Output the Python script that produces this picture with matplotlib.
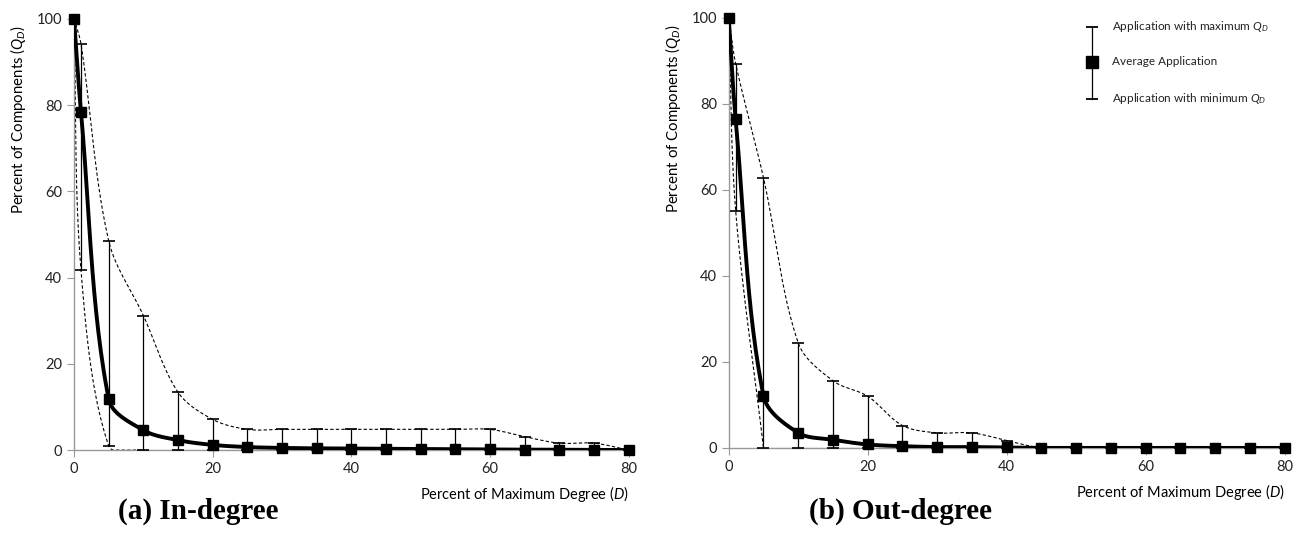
import numpy as np
import matplotlib
matplotlib.use('Agg')
import matplotlib.pyplot as plt

plt.rcParams['font.family'] = 'Lato'
plt.rcParams['mathtext.fontset'] = 'custom'
plt.rcParams['mathtext.rm'] = 'Lato'
plt.rcParams['mathtext.it'] = 'Lato:italic'

# x positions (percent of maximum degree)
deg = [0, 1, 5, 10, 15, 20, 25, 30, 35, 40, 45, 50, 55, 60, 65, 70, 75, 80]

# (a) in-degree
in_avg = [100, 78.4, 11.8, 4.6, 2.3, 1.2, 0.7, 0.5, 0.4, 0.35, 0.3, 0.25, 0.2, 0.15, 0.1, 0.08, 0.05, 0]
in_max = [100, 94.2, 48.5, 31.2, 13.4, 7.1, 4.8, 4.8, 4.8, 4.8, 4.8, 4.8, 4.8, 4.8, 3.1, 1.6, 1.6, 0]
in_min = [100, 41.8, 1.0, 0, 0, 0, 0, 0, 0, 0, 0, 0, 0, 0, 0, 0, 0, 0]

# (b) out-degree
out_avg = [100, 76.4, 12.1, 3.5, 1.9, 0.8, 0.4, 0.2, 0.2, 0.1, 0, 0, 0, 0, 0, 0, 0, 0]
out_max = [100, 89.3, 62.8, 24.4, 15.6, 12.0, 5.2, 3.5, 3.5, 1.7, 0, 0, 0, 0, 0, 0, 0, 0]
out_min = [100, 55.1, 0, 0, 0, 0, 0, 0, 0, 0, 0, 0, 0, 0, 0, 0, 0, 0]

xticks = [0, 20, 40, 60, 80]
yticks = [0, 20, 40, 60, 80, 100]


def smooth(x, y, sx=6.94, sy=4.31, n=30):
    # excel-like smoothed line, bezier with length-weighted tangents (screen space)
    p = np.column_stack([np.asarray(x, float) * sx, np.asarray(y, float) * sy])
    out = []
    for i in range(len(p) - 1):
        p0 = p[max(i - 1, 0)]
        p1 = p[i]
        p2 = p[i + 1]
        p3 = p[min(i + 2, len(p) - 1)]
        d01 = np.hypot(*(p1 - p0))
        d12 = np.hypot(*(p2 - p1))
        d23 = np.hypot(*(p3 - p2))
        c1 = p1 + (p2 - p0) * d12 / (3 * (d01 + d12)) if d01 > 0 else p1 + (p2 - p1) / 3
        c2 = p2 - (p3 - p1) * d12 / (3 * (d12 + d23)) if d23 > 0 else p2 - (p2 - p1) / 3
        t = np.linspace(0, 1, n)[:, None]
        seg = ((1 - t) ** 3) * p1 + 3 * ((1 - t) ** 2) * t * c1 + 3 * (1 - t) * t ** 2 * c2 + t ** 3 * p2
        out.append(seg if i == 0 else seg[1:])
    s = np.vstack(out)
    return s[:, 0] / sx, s[:, 1] / sy


fig = plt.figure(figsize=(12.99, 5.39), dpi=100)
ax1 = fig.add_axes([0.057, 0.165, 0.427, 0.80])
ax2 = fig.add_axes([0.561, 0.169, 0.428, 0.798])

for ax, avg, mx, mn in [(ax1, in_avg, in_max, in_min), (ax2, out_avg, out_max, out_min)]:
    x = np.array(deg)
    mn = np.array(mn)
    # min series: dashed until it reaches zero, then thin red along zero
    k = int(np.argmax(mn == 0))
    sx, sy = smooth(x[:k + 1], mn[:k + 1])
    ax.plot(sx, np.clip(sy, 0, None), color='black', lw=0.8, ls=(0, (3, 2)), zorder=2)
    ax.plot(x[k:], mn[k:], color='#c0504d', lw=0.9, ls=(0, (1, 1)), zorder=2)
    sx, sy = smooth(x, mx)
    ax.plot(sx, np.clip(sy, 0, None), color='black', lw=0.8, ls=(0, (3, 2)), zorder=2)
    avg = np.array(avg)
    mx = np.array(mx)
    ax.errorbar(x, avg, yerr=[avg - mn, mx - avg], fmt='none', ecolor='black',
                elinewidth=0.9, capsize=4, capthick=1.2, zorder=3)
    sx, sy = smooth(x, avg)
    ax.plot(sx, np.clip(sy, 0, None), color='black', lw=2.8, zorder=4)
    ax.plot(x, avg, ls='none', marker='s', ms=7, color='black', zorder=5, clip_on=False)

    ax.set_xlim(0, 80)
    ax.set_ylim(0, 100)
    ax.set_xticks(xticks)
    ax.set_yticks(yticks)
    for s in ['top', 'right']:
        ax.spines[s].set_visible(False)
    for s in ['left', 'bottom']:
        ax.spines[s].set_color('#999999')
        ax.spines[s].set_linewidth(1.0)
    ax.tick_params(colors='#999999', labelcolor='#222222', labelsize=10.5, length=5, direction='out')
    ax.set_xlabel('Percent of Maximum Degree ($\\mathit{D}$)', fontsize=10.5, loc='right', labelpad=6)
    ax.set_ylabel('Percent of Components ($\\mathit{Q_D}$)', fontsize=10.8, loc='top', labelpad=8)
    ax.yaxis.set_label_coords(-0.083, 0.985)
    ax.patch.set_alpha(0)

# legend drawn by hand in top right of panel (b)
lx = 0.653
ytop, ymid, ybot = 0.979, 0.898, 0.812
ax2.plot([lx, lx], [ytop, ybot], transform=ax2.transAxes, color='black', lw=0.9, clip_on=False)
ax2.plot([lx, lx], [ytop, ybot], transform=ax2.transAxes, ls='none', marker='_', ms=8, mew=1.3,
         color='black', clip_on=False)
ax2.plot([lx], [ymid], transform=ax2.transAxes, ls='none', marker='s', ms=8, color='black', clip_on=False)
tx = lx + 0.036
ax2.text(tx, ytop, 'Application with maximum $\\mathit{Q_D}$', transform=ax2.transAxes,
         fontsize=8.5, va='center', color='#222222')
ax2.text(tx, ymid, 'Average Application', transform=ax2.transAxes,
         fontsize=8.5, va='center', color='#222222')
ax2.text(tx, ybot, 'Application with minimum $\\mathit{Q_D}$', transform=ax2.transAxes,
         fontsize=8.5, va='center', color='#222222')

fig.text(0.153, 0.052, '(a) In-degree', fontsize=21, fontweight='bold', family='Liberation Serif',
         ha='center', va='center')
fig.text(0.693, 0.052, '(b) Out-degree', fontsize=21, fontweight='bold', family='Liberation Serif',
         ha='center', va='center')

fig.savefig('out.png', dpi=100)
